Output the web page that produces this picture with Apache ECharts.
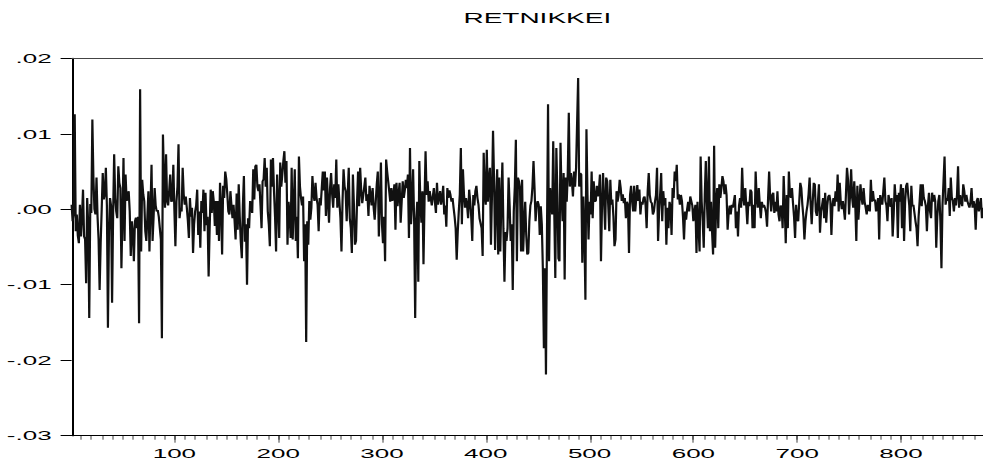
<!DOCTYPE html>
<html>
<head>
<meta charset="utf-8">
<title>RETNIKKEI</title>
<script src="https://cdn.jsdelivr.net/npm/echarts@6/dist/echarts.min.js"></script>
<style>
    html, body { margin: 0; padding: 0; background: #fff; overflow: hidden; }
    #chart { height: 465px; transform-origin: 0 0; }
</style>
</head>
<body>
<div id="chart"></div>
<script>
// the reference graph is an EViews plot that was stretched sideways,
// so the chart is drawn narrow and widened with a CSS scale
const STRETCH = 2;
const PAGE_WIDTH = 983;

const chartTitle = 'RETNIKKEI';
const yTicks = [-0.03, -0.02, -0.01, 0, 0.01, 0.02];
const xLabelTicks = [100, 200, 300, 400, 500, 600, 700, 800];

const retNikkei = [
    .0006,-.0016,-.0005,.0126,-.0029,-.0007,-.0035,-.0045,.0006,-.0036,
    -.0010,.0026,-.0036,-.0040,-.0098,.0015,-.0020,-.0144,.0007,-.0005,
    .0119,.0042,0,-.0007,.0042,-.0010,-.0040,-.0107,-.0045,0,
    .0048,.0013,.0020,.0055,.0005,-.0157,-.0030,.0015,.0005,-.0124,
    -.0007,.0073,.0015,-.0003,-.0012,.0057,.0035,.0028,-.0078,-.0007,
    .0068,-.0042,.0046,.0011,.0015,.0024,-.0003,-.0062,-.0016,-.0030,
    -.0069,-.0016,-.0011,-.0025,-.0010,-.0151,.0159,-.0056,.0039,.0020,
    .0011,-.0029,-.0042,-.0010,.0024,-.0056,0,.0059,-.0042,-.0010,
    .0028,.0005,-.0003,-.0001,-.0010,-.0025,-.0040,-.0171,.0099,.0040,
    .0002,.0073,.0011,.0005,.0024,.0046,.0010,.0011,.0059,0,
    -.0049,.0010,.0030,.0086,-.0012,.0002,-.0003,.0055,.0020,.0006,
    .0017,.0002,-.0015,-.0038,.0015,-.0010,.0002,-.0058,-.0020,-.0003,
    .0005,.0026,-.0034,-.0003,-.0051,.0011,-.0005,.0026,-.0029,.0022,
    -.0021,-.0010,-.0089,-.0025,.0026,-.0005,.0024,.0010,-.0022,.0011,
    -.0034,.0011,-.0042,.0035,.0005,-.0060,.0031,.0015,.0050,.0040,
    .0020,-.0003,-.0007,.0024,.0005,-.0012,.0006,-.0015,-.0040,.0021,
    -.0027,.0033,-.0010,-.0043,-.0065,.0005,.0044,-.0043,-.0020,-.0100,
    -.0012,-.0025,.0011,.0003,-.0005,.0053,.0013,.0057,.0059,.0030,
    .0024,.0033,.0005,-.0025,.0037,.0040,.0068,.0030,.0055,-.0003,
    -.0020,-.0049,.0066,.0030,.0068,.0024,-.0010,-.0056,.0046,.0005,
    -.0038,.0062,.0030,.0046,.0064,.0077,.0035,.0064,-.0047,.0010,
    -.0007,-.0038,.0055,-.0040,.0005,.0053,-.0042,-.0010,-.0065,.0070,
    .0030,.0015,.0005,.0017,-.0069,-.0020,-.0176,-.0016,-.0047,.0011,
    -.0014,.0002,.0044,.0020,.0011,.0035,.0015,.0006,-.0029,.0015,
    .0005,.0028,.0050,.0025,.0050,-.0009,.0042,.0010,-.0018,.0028,
    .0048,.0020,.0002,.0033,.0015,.0066,.0002,.0033,.0010,-.0012,
    -.0056,.0010,.0053,.0030,.0024,-.0016,.0020,.0055,-.0012,-.0025,
    -.0058,.0046,.0005,-.0047,-.0042,.0010,.0050,.0004,.0055,.0025,
    .0008,.0019,.0030,.0042,.0011,.0020,-.0009,.0031,.0019,.0005,
    .0028,.0002,-.0014,.0010,.0033,.0050,-.0036,.0010,.0062,-.0020,
    -.0045,-.0010,-.0069,.0066,.0050,.0037,.0024,.0010,.0028,.0011,
    .0020,.0033,-.0027,.0035,.0004,.0020,.0035,-.0018,.0010,.0037,
    .0015,.0025,.0039,.0028,.0046,-.0038,.0081,-.0020,.0010,.0053,
    -.0016,-.0144,-.0014,.0010,-.0096,.0064,.0010,-.0018,.0024,-.0073,
    .0010,.0077,.0019,.0037,.0010,.0024,.0024,.0005,.0017,.0028,
    .0010,-.0005,.0035,.0006,.0015,.0024,.0006,.0015,.0031,-.0007,
    .0005,-.0023,.0028,.0015,.0025,.0019,.0010,.0015,.0002,-.0010,
    -.0025,-.0067,-.0030,-.0003,.0020,.0081,-.0020,.0053,.0020,.0002,
    .0015,.0005,-.0012,.0026,.0011,-.0010,-.0042,.0019,.0005,.0024,
    .0031,.0015,.0006,-.0012,-.0012,-.0025,-.0062,.0075,.0020,.0006,
    .0079,.0010,.0039,.0055,-.0047,.0020,.0104,.0039,-.0054,.0010,
    .0053,-.0060,.0042,-.0056,.0010,.0062,-.0025,-.0096,-.0030,-.0042,
    -.0025,.0042,.0005,-.0042,-.0020,-.0107,-.0003,.0030,.0092,-.0069,
    .0042,.0037,.0028,-.0056,.0039,-.0056,-.0020,.0010,-.0034,-.0060,
    -.0058,-.0016,.0005,.0011,.0030,.0064,.0028,-.0016,.0005,.0011,
    .0006,-.0034,.0004,-.0020,-.0078,-.0184,-.0078,-.0219,-.0030,.0139,
    -.0069,.0028,.0010,-.0007,.0090,-.0003,-.0091,.0081,.0020,-.0065,
    -.0069,.0088,.0020,-.0016,.0048,-.0093,.0042,.0010,.0048,.0128,
    .0030,.0048,.0037,.0017,.0050,.0030,.0055,.0055,.0174,.0030,
    .0048,.0046,-.0071,.0017,-.0030,-.0120,.0106,.0019,-.0040,.0010,
    -.0007,.0050,-.0012,.0037,.0010,.0011,.0031,.0017,.0025,.0046,
    -.0069,.0006,.0048,.0010,-.0027,.0042,.0037,.0005,-.0029,.0039,
    .0006,.0013,-.0010,-.0049,-.0040,.0024,.0010,.0019,.0039,.0028,
    .0011,.0020,.0008,.0015,-.0012,.0010,.0006,-.0058,.0019,.0031,
    .0010,-.0003,.0031,-.0003,.0015,.0032,.0011,.0026,-.0007,.0010,
    .0006,.0015,.0017,.0005,-.0025,.0024,.0048,.0019,.0010,.0008,
    -.0007,-.0003,.0010,.0019,.0055,-.0042,-.0003,.0020,.0048,-.0016,
    .0024,.0005,.0015,-.0047,.0002,-.0025,.0010,.0004,-.0034,.0028,
    .0015,.0050,.0037,.0059,.0013,.0020,.0006,.0019,.0011,-.0010,
    -.0040,-.0003,-.0014,0,.0010,-.0003,.0017,.0011,.0005,-.0016,
    -.0003,.0006,-.0058,.0010,-.0025,-.0056,.0070,.0010,-.0016,-.0051,
    .0019,.0064,.0010,-.0025,.0070,-.0029,.0010,-.0029,-.0060,.0084,
    -.0051,.0010,.0028,-.0025,.0033,.0015,.0028,.0044,.0037,.0020,
    .0033,.0019,-.0027,-.0005,.0005,-.0007,.0006,.0002,.0010,.0019,
    -.0025,-.0003,-.0036,.0005,.0015,.0002,.0055,.0015,.0005,.0028,
    .0004,-.0020,.0010,.0004,.0026,.0023,-.0025,.0006,-.0025,.0050,
    .0015,.0002,.0028,.0006,-.0012,.0010,.0002,.0006,.0002,-.0005,
    -.0023,.0015,.0050,.0015,-.0003,.0019,.0022,-.0005,.0010,-.0003,
    .0024,-.0007,-.0016,.0005,.0004,-.0025,.0044,.0005,-.0045,.0019,
    -.0025,.0050,.0020,.0015,.0028,.0008,-.0010,-.0038,.0006,-.0014,
    -.0016,.0010,.0035,.0028,.0006,-.0010,-.0040,-.0016,-.0003,.0006,
    .0020,.0042,.0006,-.0020,.0010,.0035,.0033,-.0003,-.0009,.0010,
    .0033,-.0031,-.0003,.0005,.0015,-.0012,.0022,-.0018,.0005,.0017,
    .0019,.0011,-.0034,.0005,.0015,.0004,.0024,.0010,.0046,-.0003,
    .0035,.0010,0,.0011,0,-.0014,.0020,.0055,.0039,-.0007,
    .0020,.0053,.0015,.0002,.0037,.0005,-.0042,.0031,-.0014,.0010,
    .0033,.0015,.0006,.0028,.0010,.0002,-.0007,.0006,.0006,-.0003,
    .0039,.0010,.0024,.0011,.0013,-.0003,.0005,.0015,-.0040,.0019,
    .0010,.0006,.0024,.0042,.0011,.0005,-.0016,.0019,.0011,.0003,
    .0015,-.0036,-.0007,.0033,.0010,.0019,-.0038,.0022,.0010,.0033,
    -.0025,.0028,-.0042,.0010,.0031,.0035,.0019,.0005,-.0029,.0031,
    .0004,.0006,-.0005,-.0016,-.0025,-.0049,-.0010,.0011,.0033,.0004,
    .0033,.0015,.0011,.0004,-.0029,.0005,.0022,-.0003,-.0012,.0022,
    .0010,.0019,.0011,-.0051,-.0010,.0011,.0019,-.0016,-.0078,.0005,
    .0037,.0070,.0006,.0015,.0011,.0028,-.0009,.0042,.0015,.0011,
    -.0003,.0015,.0005,.0019,.0057,.0002,.0019,.0010,.0004,.0033,
    .0024,.0010,.0019,.0011,.0006,.0002,.0010,.0028,.0002,.0011,
    .0005,-.0027,.0011,.0015,-.0003,.0005,.0015,-.0012,.0002,-.0007
];

const observations = retNikkei.map((_, i) => i + 1);
const firstObs = observations[0];
const lastObs = observations[observations.length - 1];

// small ticks every 10 observations
const xMinorTicks = [];
for (let t = 10; t < lastObs; t += 10) {
    xMinorTicks.push(t);
}

function formatTick(value) {
    // EViews style: .02, .00, -.01
    return value.toFixed(2).replace(/^(-?)0\./, '$1.');
}

const FONT = '"Liberation Sans", Arial, sans-serif';
const chartEl = document.getElementById('chart');
const baseWidth = PAGE_WIDTH / STRETCH;
chartEl.style.width = baseWidth + 'px';
chartEl.style.transform = 'scaleX(' + STRETCH + ')';

const gridLeft = 71.6 / STRETCH;
const chart = echarts.init(chartEl, null, { renderer: 'svg' });

const hiddenAxisParts = {
    axisLabel: { show: false },
    axisTick: { show: false },
    splitLine: { show: false },
};

chart.setOption({
    animation: false,
    backgroundColor: '#ffffff',
    title: {
        text: chartTitle,
        left: (gridLeft + baseWidth) / 2,
        textAlign: 'center',
        top: 6,
        textStyle: {
            fontFamily: FONT,
            fontSize: 14,
            fontWeight: 'normal',
            color: '#000',
        },
    },
    grid: {
        left: gridLeft,
        right: 0,
        top: 58.3,
        bottom: 29.3,
        containLabel: false,
    },
    xAxis: [
        {
            // bottom line with the small ticks
            type: 'value',
            min: firstObs,
            max: lastObs,
            position: 'bottom',
            axisLine: { onZero: false, lineStyle: { color: '#000', width: 1 } },
            axisTick: {
                show: true,
                inside: false,
                length: 4,
                customValues: xMinorTicks,
                lineStyle: { color: '#000', width: 0.5 },
            },
            axisLabel: { show: false },
            splitLine: { show: false },
        },
        {
            // labelled hundreds with longer ticks
            type: 'value',
            min: firstObs,
            max: lastObs,
            position: 'bottom',
            axisLine: { show: false, onZero: false },
            axisTick: {
                show: true,
                inside: false,
                length: 7,
                customValues: xLabelTicks,
                lineStyle: { color: '#000', width: 0.5 },
            },
            axisLabel: {
                show: true,
                customValues: xLabelTicks,
                margin: 11,
                color: '#000',
                fontFamily: FONT,
                fontSize: 13,
            },
            splitLine: { show: false },
        },
        {
            // top frame line
            type: 'value',
            min: firstObs,
            max: lastObs,
            position: 'top',
            axisLine: { show: true, onZero: false, lineStyle: { color: '#444', width: 1 } },
            ...hiddenAxisParts,
        },
    ],
    yAxis: {
        type: 'value',
        min: yTicks[0],
        max: yTicks[yTicks.length - 1],
        interval: 0.01,
        position: 'left',
        axisLine: { show: true, onZero: false, lineStyle: { color: '#000', width: 1 } },
        axisTick: {
            show: true,
            inside: false,
            length: 5.5,
            lineStyle: { color: '#000', width: 1 },
        },
        axisLabel: {
            margin: 10,
            color: '#000',
            fontFamily: FONT,
            fontSize: 13,
            formatter: formatTick,
        },
        splitLine: { show: false },
    },
    series: [{
        name: chartTitle,
        type: 'line',
        xAxisIndex: 0,
        data: observations.map((obs, i) => [obs, retNikkei[i]]),
        showSymbol: false,
        symbol: 'none',
        silent: true,
        lineStyle: { color: '#111', width: 1.1 },
    }],
});
</script>
</body>
</html>
